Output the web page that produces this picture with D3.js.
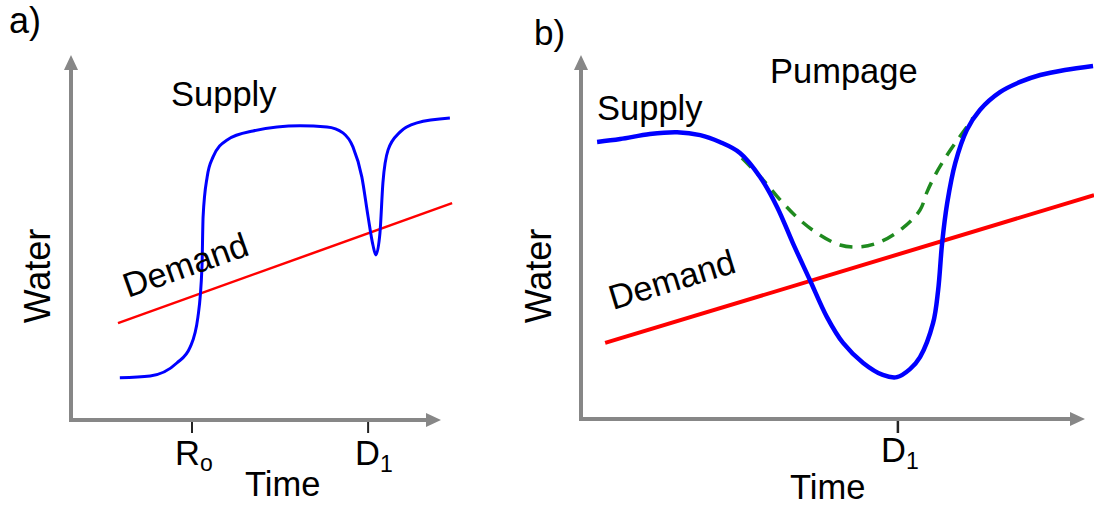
<!DOCTYPE html>
<html>
<head>
<meta charset="utf-8">
<script src="https://cdn.jsdelivr.net/npm/d3@7"></script>
<style>
  body { margin: 0; background: #fff; }
  svg text { font-family: Arial, "Liberation Sans", sans-serif; fill: #000; }
</style>
</head>
<body>
<svg width="1094" height="506"></svg>
<script>
var svg = d3.select('svg');

// ---- data (arbitrary units, 0-100 on each axis) ----
// panel a
var aSupplyTime  = [13.2, 21.4, 28.6, 32.2, 34.3, 35.4, 35.7, 36.8, 38.4, 42.2, 49.2, 61.9, 69.2, 73.5, 76.2, 78.6, 80.3, 81.6, 82.4, 83.5, 84.3, 85.7, 88.9, 93.5, 102.4];
var aSupplyWater = [11.4, 11.9, 15.4, 19.7, 27.8, 41.4, 54.9, 65.7, 71.1, 75.7, 78.1, 79.5, 79.2, 77.6, 73.8, 65.7, 54.9, 47.3, 44.6, 50.5, 64.1, 73.0, 77.8, 80.3, 81.6];
var aDemandTime  = [12.7, 103];
var aDemandWater = [26.2, 58.6];
var aTicks = [32.7, 80.3];

// panel b
var bSupplyTime  = [3.2, 7.8, 13.7, 19.1, 23.7, 27.6, 31.6, 35.6, 39.0, 42.1, 45.5, 48.9, 52.1, 56.1, 60.0, 62.8, 65.4, 67.4, 70.0, 71.0, 71.8, 72.8, 74.4, 76.7, 79.3, 83.3, 87.3, 91.3, 96.2, 101.8];
var bSupplyWater = [76.1, 76.9, 78.3, 78.8, 78.0, 76.1, 73.1, 66.5, 58.2, 48.4, 38.2, 28.0, 20.9, 15.4, 12.1, 11.5, 13.7, 17.0, 26.4, 35.4, 48.4, 59.3, 70.3, 79.4, 84.9, 89.8, 92.6, 94.5, 95.9, 97.0];
var bPumpTime  = [32.0, 36.2, 39.6, 43.1, 46.9, 51.5, 55.5, 59.4, 64.0, 67.4, 68.8, 70.4, 72.4, 74.8, 76.7, 77.9];
var bPumpWater = [71.7, 65.7, 60.2, 55.2, 51.1, 47.8, 47.3, 48.6, 52.5, 57.4, 62.4, 67.0, 71.7, 76.6, 80.2, 82.7];
var bDemandTime  = [4.8, 102];
var bDemandWater = [20.9, 61.5];
var bTicks = [63.0];

function pts(xs, ys){ return xs.map(function(x, i){ return [x, ys[i]]; }); }

// ---- scales ----
var xA = d3.scaleLinear().domain([0, 100]).range([71, 441]);
var yA = d3.scaleLinear().domain([0, 100]).range([420, 50]);
var xB = d3.scaleLinear().domain([0, 100]).range([581, 1084]);
var yB = d3.scaleLinear().domain([0, 100]).range([419, 55]);

var grey = '#878787';

function drawAxes(x0, y0, xEnd, yTop){
    svg.append('line').attr('x1', x0).attr('y1', y0 + 2).attr('x2', x0).attr('y2', yTop + 12)
        .attr('stroke', grey).attr('stroke-width', 4);
    svg.append('line').attr('x1', x0 - 2).attr('y1', y0).attr('x2', xEnd - 12).attr('y2', y0)
        .attr('stroke', grey).attr('stroke-width', 4);
    // arrow heads
    svg.append('path').attr('d', 'M' + x0 + ',' + yTop + 'L' + (x0 + 7) + ',' + (yTop + 15) + 'L' + (x0 - 7) + ',' + (yTop + 15) + 'Z')
        .attr('fill', grey);
    svg.append('path').attr('d', 'M' + xEnd + ',' + y0 + 'L' + (xEnd - 15) + ',' + (y0 - 7) + 'L' + (xEnd - 15) + ',' + (y0 + 7) + 'Z')
        .attr('fill', grey);
}

drawAxes(xA(0), yA(0), 441, 55);
drawAxes(xB(0), yB(0), 1085, 55);

// ticks
svg.selectAll('.tickA').data(aTicks).enter().append('line')
    .attr('x1', function(d){ return xA(d); }).attr('x2', function(d){ return xA(d); })
    .attr('y1', yA(0) + 2).attr('y2', yA(0) + 13)
    .attr('stroke', '#222').attr('stroke-width', 2);
svg.selectAll('.tickB').data(bTicks).enter().append('line')
    .attr('x1', function(d){ return xB(d); }).attr('x2', function(d){ return xB(d); })
    .attr('y1', yB(0) + 2).attr('y2', yB(0) + 14)
    .attr('stroke', '#222').attr('stroke-width', 2.5);

// ---- lines ----
var lineA = d3.line().x(function(d){ return xA(d[0]); }).y(function(d){ return yA(d[1]); }).curve(d3.curveMonotoneX);
var lineB = d3.line().x(function(d){ return xB(d[0]); }).y(function(d){ return yB(d[1]); }).curve(d3.curveCatmullRom.alpha(0.5));

svg.append('path').attr('d', lineA(pts(aDemandTime, aDemandWater)))
    .attr('fill', 'none').attr('stroke', '#ff0000').attr('stroke-width', 2.5);
svg.append('path').attr('d', lineA(pts(aSupplyTime, aSupplyWater)))
    .attr('fill', 'none').attr('stroke', '#0000ff').attr('stroke-width', 3);

svg.append('path').attr('d', lineB(pts(bDemandTime, bDemandWater)))
    .attr('fill', 'none').attr('stroke', '#ff0000').attr('stroke-width', 4);
svg.append('path').attr('d', lineB(pts(bPumpTime, bPumpWater)))
    .attr('fill', 'none').attr('stroke', '#1f8a1f').attr('stroke-width', 3.5)
    .attr('stroke-dasharray', '13,9');
svg.append('path').attr('d', lineB(pts(bSupplyTime, bSupplyWater)))
    .attr('fill', 'none').attr('stroke', '#0000ff').attr('stroke-width', 4.5);

// ---- text ----
var fs = '34.5px';
svg.append('text').text('a)').attr('x', 9).attr('y', 33).style('font-size', '36px');
svg.append('text').text('b)').attr('x', 534).attr('y', 45).style('font-size', '35px');

svg.append('text').text('Supply').attr('x', 171).attr('y', 106).style('font-size', fs);
svg.append('text').text('Demand').style('font-size', fs)
    .attr('transform', 'translate(128,298)rotate(-19.5)');
svg.append('text').text('Water').style('font-size', '36px').style('text-anchor', 'middle')
    .attr('transform', 'translate(50,276)rotate(-90)');
svg.append('text').text('Time').attr('x', 245).attr('y', 496).style('font-size', fs);

var r0 = svg.append('text').attr('x', 175).attr('y', 465).style('font-size', fs);
r0.append('tspan').text('R');
r0.append('tspan').text('o').attr('dy', 6).style('font-size', '23px');
var d1a = svg.append('text').attr('x', 355).attr('y', 465).style('font-size', fs);
d1a.append('tspan').text('D');
d1a.append('tspan').text('1').attr('dy', 7).style('font-size', '23px');

svg.append('text').text('Pumpage').attr('x', 770).attr('y', 83).style('font-size', fs);
svg.append('text').text('Supply').attr('x', 597).attr('y', 120).style('font-size', fs);
svg.append('text').text('Demand').style('font-size', fs)
    .attr('transform', 'translate(613,310)rotate(-17)');
svg.append('text').text('Water').style('font-size', '36px').style('text-anchor', 'middle')
    .attr('transform', 'translate(551,276)rotate(-90)');
svg.append('text').text('Time').attr('x', 790).attr('y', 499).style('font-size', fs);
var d1b = svg.append('text').attr('x', 881).attr('y', 462).style('font-size', fs);
d1b.append('tspan').text('D');
d1b.append('tspan').text('1').attr('dy', 7).style('font-size', '23px');
</script>
</body>
</html>
